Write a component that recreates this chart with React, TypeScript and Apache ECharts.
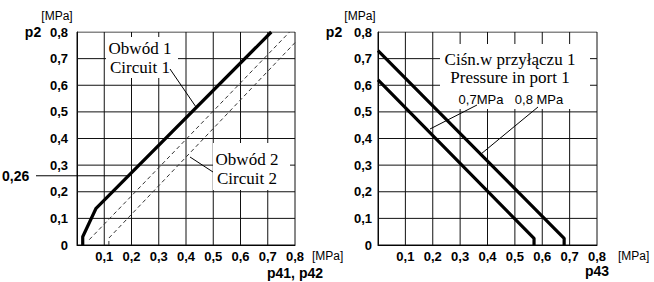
import React, { useEffect, useRef } from "react";
import * as echarts from "echarts";

// ---- data (MPa) ----
const gridTicks = [0, 0.1, 0.2, 0.3, 0.4, 0.5, 0.6, 0.7, 0.8];
const circuit1: number[][] = [[0.021, 0], [0.021, 0.031], [0.07, 0.138], [0.713, 0.8]];
const circuit2Upper: number[][] = [[0.045, 0.02], [0.78, 0.8]];
const circuit2Lower: number[][] = [[0.117, 0], [0.117, 0.026], [0.8, 0.76]];
const port07: number[][] = [[0, 0.62], [0.57, 0.025], [0.57, 0]];
const port08: number[][] = [[0, 0.73], [0.68, 0.025], [0.68, 0]];
const markValue = 0.26;
const markLabel = "0,26";

const fmt = (v: number) => (Math.abs(v) < 1e-9 ? "0" : v.toFixed(1).replace(".", ","));

function interpX(line: number[][], y: number): number {
  for (let i = 1; i < line.length; i++) {
    const [x0, y0] = line[i - 1];
    const [x1, y1] = line[i];
    if ((y - y0) * (y - y1) <= 0 && y1 !== y0) return x0 + ((y - y0) * (x1 - x0)) / (y1 - y0);
  }
  return 0;
}

const TICK_FONT = '"Liberation Sans Narrow", "Arial Narrow", Arial, "Liberation Sans", sans-serif';
const SANS = 'Arial, "Liberation Sans", sans-serif';
const SERIF = '"Times New Roman", "Liberation Serif", serif';

export default function App() {
  const ref = useRef<HTMLDivElement>(null);
  useEffect(() => {
    if (!ref.current) return;
    const chart = echarts.init(ref.current, undefined, { renderer: "svg" });
    const x26 = interpX(circuit1, markValue);
    const lo = gridTicks[0];
    const hi = gridTicks[gridTicks.length - 1];

    const mkAxis = (i: number, margin: number, skipZero: boolean) => ({
      type: "value",
      gridIndex: i,
      min: lo,
      max: hi,
      interval: 0.1,
      axisLine: { show: true, onZero: false, lineStyle: { color: "#000", width: 1 } },
      axisTick: { show: false },
      splitLine: { show: false },
      axisLabel: {
        margin,
        color: "#000",
        fontSize: 13,
        fontWeight: "bold",
        fontFamily: TICK_FONT,
        formatter: (v: number) => (skipZero && Math.abs(v) < 1e-9 ? "" : fmt(v)),
      },
    });

    // grid lines as plain line series through the axes' own scales
    const gridSeries = (i: number) => {
      const out: any[] = [];
      gridTicks.forEach((t) => {
        out.push({
          type: "line", xAxisIndex: i, yAxisIndex: i, silent: true, z: 1, symbol: "none",
          data: [[t, lo], [t, hi]], lineStyle: { color: "#111", width: 1 },
        });
        out.push({
          type: "line", xAxisIndex: i, yAxisIndex: i, silent: true, z: 1, symbol: "none",
          data: [[lo, t], [hi, t]], lineStyle: { color: "#111", width: 1 },
        });
      });
      return out;
    };

    const txt = (text: string, x: number, y: number, size: number, family: string, weight = "normal", align = "center") => ({
      type: "text",
      x,
      y,
      z: 20,
      style: {
        text,
        fill: "#000",
        fontSize: size,
        fontFamily: family,
        fontWeight: weight,
        align,
        verticalAlign: "middle",
        textAlign: align,
        textVerticalAlign: "middle",
      },
    });
    const box = (x: number, y: number, w: number, h: number) => ({
      type: "rect",
      z: 5,
      shape: { x, y, width: w, height: h },
      style: { fill: "#fff" },
    });
    const seg = (x1: number, y1: number, x2: number, y2: number) => ({
      type: "line",
      z: 20,
      shape: { x1, y1, x2, y2 },
      style: { stroke: "#000", lineWidth: 1 },
    });

    const thick = { color: "#000", width: 3.2 };
    const dashed = { color: "#333", width: 1, type: [4, 3] };

    const baseGraphic = [
      box(106, 37, 72, 41),
      box(213, 143, 77, 47),
      box(440, 44, 150, 65),
      txt("Obwód 1", 140, 48, 17, SERIF),
      txt("Circuit 1", 140, 67, 17, SERIF),
      txt("Obwód 2", 247, 159, 17, SERIF),
      txt("Circuit 2", 247, 178, 17, SERIF),
      seg(170, 69, 196, 107),
      seg(213, 172, 190, 157),
      txt(markLabel, 2, 176, 14, SANS, "bold", "left"),
      txt("[MPa]", 57, 16, 12, SANS),
      txt("p2", 33, 32, 14, SANS, "bold"),
      txt("[MPa]", 312, 256, 12, SANS, "normal", "left"),
      txt("p41, p42", 295, 273, 14, SANS, "bold"),
      txt("Ciśn.w przyłączu 1", 510, 59, 17, SERIF),
      txt("Pressure in port 1", 510, 77, 17, SERIF),
      txt("0,7MPa", 481, 99, 13, SANS),
      txt("0,8 MPa", 539, 99, 13, SANS),
      seg(477, 105, 430, 129),
      seg(538, 107, 481, 154),
      txt("[MPa]", 360, 16, 12, SANS),
      txt("p2", 334, 32, 14, SANS, "bold"),
      txt("[MPa]", 618, 256, 12, SANS, "normal", "left"),
      txt("p43", 597, 271, 14, SANS, "bold"),
    ];

    chart.setOption({
      animation: false,
      backgroundColor: "#fff",
      grid: [
        { left: 77, top: 32, width: 218, height: 213 },
        { left: 378, top: 32, width: 219, height: 213 },
      ],
      xAxis: [mkAxis(0, 5, true), mkAxis(1, 5, true)],
      yAxis: [mkAxis(0, 9, false), mkAxis(1, 6, false)],
      series: [
        ...gridSeries(0),
        ...gridSeries(1),
        { type: "line", xAxisIndex: 0, yAxisIndex: 0, data: circuit1, symbol: "none", lineStyle: thick, z: 3 },
        { type: "line", xAxisIndex: 0, yAxisIndex: 0, data: circuit2Upper, symbol: "none", lineStyle: dashed, z: 2 },
        { type: "line", xAxisIndex: 0, yAxisIndex: 0, data: circuit2Lower, symbol: "none", lineStyle: dashed, z: 2 },
        { type: "line", xAxisIndex: 1, yAxisIndex: 1, data: port07, symbol: "none", lineStyle: thick, z: 3 },
        { type: "line", xAxisIndex: 1, yAxisIndex: 1, data: port08, symbol: "none", lineStyle: thick, z: 3 },
      ],
      graphic: baseGraphic,
    });

    // reference line at 0,26 from the label to circuit 1
    const p = chart.convertToPixel({ gridIndex: 0 } as any, [x26, markValue]) as number[];
    if (p && isFinite(p[0])) {
      chart.setOption({ graphic: [...baseGraphic, seg(36, p[1], p[0], p[1])] }, { replaceMerge: ["graphic"] } as any);
    }
    return () => chart.dispose();
  }, []);
  return <div ref={ref} style={{ position: "fixed", left: 0, top: 0, width: 654, height: 282, background: "#fff" }} />;
}
